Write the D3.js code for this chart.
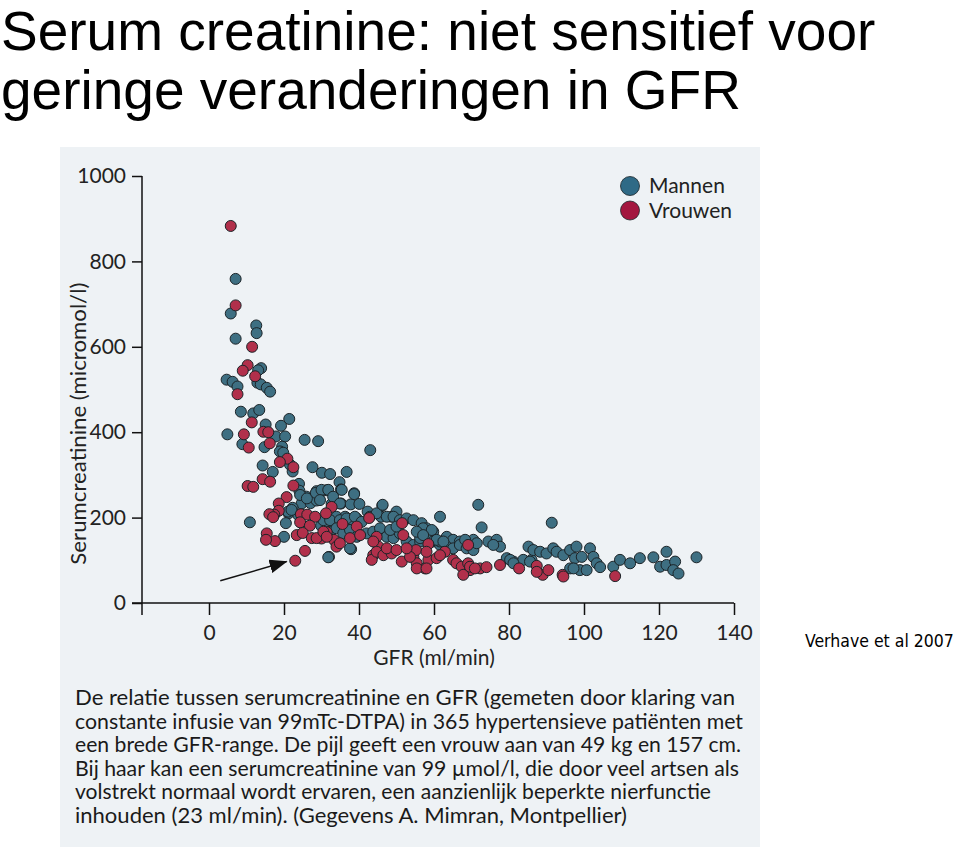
<!DOCTYPE html>
<html>
<head>
<meta charset="utf-8">
<script src="https://cdnjs.cloudflare.com/ajax/libs/d3/7.8.5/d3.min.js"></script>
<style>
  body { margin: 0; background: #fff; }
  svg { display: block; }
</style>
</head>
<body>
<script>
const width = 960;
const height = 847;

const titleLines = ["Serum creatinine: niet sensitief voor", "geringe veranderingen in GFR"];
const xTicks = [0, 20, 40, 60, 80, 100, 120, 140];
const yTicks = [0, 200, 400, 600, 800, 1000];
const xTitle = "GFR (ml/min)";
const yTitle = "Serumcreatinine (micromol/l)";
const seriesNames = ["Mannen", "Vrouwen"];
const captionLines = [
    "De relatie tussen serumcreatinine en GFR (gemeten door klaring van",
    "constante infusie van 99mTc-DTPA) in 365 hypertensieve patiënten met",
    "een brede GFR-range. De pijl geeft een vrouw aan van 49 kg en 157 cm.",
    "Bij haar kan een serumcreatinine van 99 µmol/l, die door veel artsen als",
    "volstrekt normaal wordt ervaren, een aanzienlijk beperkte nierfunctie",
    "inhouden (23 ml/min). (Gegevens A. Mimran, Montpellier)"
];
const source = "Verhave et al 2007";

// [GFR, serumcreatinine]
const mannen = [
    [7.1,759],[5.8,678],[7.1,619],[12.6,650],[12.7,632],[13.9,550],[13.1,545],[4.7,523],[6.3,518],[7.6,507],
    [12.9,516],[13.8,512],[15.4,504],[16.3,495],[8.5,448],[11.8,444],[13.4,452],[21.4,431],[15.1,418],[19.2,415],
    [4.9,395],[17.8,390],[20.3,390],[8.9,372],[14.8,365],[25.5,382],[29.1,379],[19.5,366],[18.9,355],[19.8,352],
    [21.6,324],[22.3,308],[14.3,322],[17,307],[27.6,318],[30.1,305],[32.3,302],[34.8,283],[36.7,307],[24,279],
    [43,358],[28.7,262],[31.3,264],[35.2,266],[26,249],[29.2,248],[24.7,233],[27.1,234],[28.7,240],[22.3,223],
    [21.2,210],[23.8,206],[32.7,232],[35.2,233],[37.8,231],[38.7,257],[29.9,181],[31.7,179],[34,202],[36.3,202],
    [37.6,194],[39.4,198],[42.3,214],[46.2,228],[45.9,202],[48.7,202],[50,214],[10.9,189],[20.5,187],[20,155],
    [32,108],[37.9,126],[24.1,263],[35.4,265],[38.7,255],[24.3,253],[26.1,245],[28.5,258],[30,265],[31.8,265],
    [33.1,249],[34.9,233],[40.1,232],[29.6,241],[21.1,214],[22,218],
    [30.5,194],[32.3,194],[34.9,194],[36.7,198],[38.9,202],[40.7,190],[42.9,202],[44.7,210],[46.3,230],[47.4,202],
    [49.2,202],[50.9,194],[52.7,198],[54.5,194],[56.7,187],[58,175],[59.8,167],[61.6,202],[63.4,155],[65.1,148],
    [66.9,144],[68.7,140],[70.5,148],[71.8,230],[32.3,167],[34,175],[35.8,163],[37.6,171],[39.4,155],[42,163],
    [43.8,167],[45.6,163],[47.4,155],[49.2,152],[50.9,163],[52.7,144],[54.5,136],[56.3,144],[58,152],[59.8,144],
    [61.6,136],[63.4,132],[65.1,128],[66.9,136],[68.7,128],[70.5,124],[37.6,128],[31.8,107],[91.4,188],[72.7,177],
    [57.1,175],[59.4,171],[56.3,152],[61.6,144],[68.3,148],[71.4,140],[74.5,144],[76.7,148],[77.6,132],[79.4,105],
    [81.2,97],[83.8,101],[86,101],[75.8,136],[80.3,101],[81.2,93],[85.6,97],[96.3,81],[98.9,77],[100.7,77],
    [85.2,132],[86.5,124],[88.3,120],[90,116],[91.8,128],[92.7,120],[94.5,112],[96.3,124],[98,132],[97.6,105],
    [99.4,108],[97.2,81],[101.6,128],[102.5,108],[103.4,93],[104.3,84],[107.8,85],[109.6,101],[112.3,93],[114.9,105],
    [118.5,107],[120.3,85],[122,120],[122,89],[124.3,97],[123.8,77],[125.2,69],[130,107],
    [45.6,175],[48.3,171],[50,179],[55.4,167],[57.1,159],[60.7,148],[62.5,144]
];

const vrouwen = [
    [5.8,883],[7.1,697],[11.5,600],[10.3,557],[9,544],[12.3,531],[7.6,489],[11.4,423],[9.3,395],[14.5,401],
    [15.8,400],[16.2,374],[10.6,364],[20.9,338],[18.9,330],[22.5,318],[14.3,290],[16.3,284],[10.3,274],[11.8,272],
    [22.5,275],[20.7,248],[18.6,233],[18.6,216],[17.4,207],[16.1,208],[17.1,201],[32.7,225],[24.5,208],[26.2,207],
    [28.3,202],[24.3,189],[26.9,181],[31.2,210],[35.6,185],[39.4,179],[42.7,199],[15.4,163],[17.6,145],[15.2,148],
    [23.4,159],[25,164],[27.4,152],[30,151],[31.4,166],[33.3,148],[34,132],[25.6,122],[23,99],
    [28.7,152],[30.5,167],[31.4,155],[34.9,140],[37.6,152],[40.3,159],[44.7,155],[45.2,132],[43.8,112],[43.4,101],
    [44.7,120],[46.5,112],[48.7,116],[51.4,97],[51.8,159],[51.5,187],[54.5,108],[55.4,93],[57.6,81],[58.5,101],
    [60.7,105],[62.9,120],[65.1,101],[66,93],[67.4,85],[69.1,93],[69.6,77],[69.1,136],[58.5,138],[55.2,124],
    [53.6,108],[55.4,81],[58,81],[67.8,66],[69.6,85],[72.3,81],[74,84],[77.6,89],[82.7,81],[87.4,87],
    [89,66],[90.5,77],[94.3,66],[94.5,62],[108.3,63],[87.4,73],[70.9,81],
    [43.8,144],[47.4,128],[50,124],[52.7,128],[58,120],[61.6,112]
];

// arrow pointing at the woman of 49 kg / 157 cm
const arrowFrom = [3, 52];
const arrowTo = [20.7, 97];

const colors = { Mannen: "#3e6f82", Vrouwen: "#b1304b" };
const legendColors = { Mannen: "#2f6a86", Vrouwen: "#a3173f" };

const svg = d3.select("body")
    .append("svg")
    .attr("width", width)
    .attr("height", height);

// title
svg.append("g")
    .selectAll("text")
    .data(titleLines)
    .enter()
    .append("text")
    .attr("x", 1)
    .attr("y", (d, i) => 50 + i * 59)
    .style("font-family", "'Liberation Sans', Arial, sans-serif")
    .style("font-size", "55px")
    .style("fill", "#000")
    .text(d => d);

// grey panel of the scanned figure
svg.append("rect")
    .attr("x", 60)
    .attr("y", 147)
    .attr("width", 700)
    .attr("height", 700)
    .style("fill", "#eef2f5");

const font = "Lato, 'Open Sans', sans-serif";

const x = d3.scaleLinear().domain([0, 140]).range([209, 734]);
const y = d3.scaleLinear().domain([0, 1000]).range([603, 176]);
const yAxisX = 142;

const chart = svg.append("g");

// y axis
const yAxis = chart.append("g")
    .attr("transform", `translate(${yAxisX},0)`)
    .call(d3.axisLeft(y).tickValues(yTicks).tickFormat(d3.format("d")).tickSize(10).tickPadding(6));
yAxis.select(".domain").remove();
yAxis.selectAll("line").style("stroke", "#111").style("stroke-width", 1.5);
yAxis.selectAll("text")
    .style("font-family", font)
    .style("font-size", "21px")
    .style("fill", "#222");

chart.append("line")
    .attr("x1", yAxisX).attr("x2", yAxisX)
    .attr("y1", y(1000)).attr("y2", y(0) + 12)
    .style("stroke", "#111")
    .style("stroke-width", 1.5);

// x axis
const xAxis = chart.append("g")
    .attr("transform", `translate(0,${y(0)})`)
    .call(d3.axisBottom(x).tickValues(xTicks).tickFormat(d3.format("d")).tickSize(12).tickPadding(10));
xAxis.select(".domain").remove();
xAxis.selectAll("line").style("stroke", "#111").style("stroke-width", 1.5);
xAxis.selectAll("text")
    .style("font-family", font)
    .style("font-size", "21px")
    .style("fill", "#222");

chart.append("line")
    .attr("x1", yAxisX - 10).attr("x2", x(140))
    .attr("y1", y(0)).attr("y2", y(0))
    .style("stroke", "#111")
    .style("stroke-width", 1.5);

// axis titles
chart.append("text")
    .attr("x", x(60))
    .attr("y", 665)
    .attr("text-anchor", "middle")
    .style("font-family", font)
    .style("font-size", "21px")
    .style("fill", "#222")
    .text(xTitle);

chart.append("text")
    .attr("transform", `translate(86,${y(420)}) rotate(-90)`)
    .attr("text-anchor", "middle")
    .attr("textLength", 282)
    .attr("lengthAdjust", "spacingAndGlyphs")
    .style("font-family", font)
    .style("font-size", "21px")
    .style("fill", "#222")
    .text(yTitle);

// points
const groups = [["Mannen", mannen], ["Vrouwen", vrouwen]];
groups.forEach(([name, pts]) => {
    chart.append("g")
        .selectAll("circle")
        .data(pts)
        .enter()
        .append("circle")
        .attr("cx", d => x(d[0]))
        .attr("cy", d => y(d[1]))
        .attr("r", 5.5)
        .style("fill", colors[name])
        .style("stroke", "#1c2428")
        .style("stroke-width", 1);
});

// arrow
svg.append("defs")
    .append("marker")
    .attr("id", "head")
    .attr("markerUnits", "userSpaceOnUse")
    .attr("markerWidth", 18)
    .attr("markerHeight", 14)
    .attr("refX", 17)
    .attr("refY", 7)
    .attr("orient", "auto")
    .append("path")
    .attr("d", "M0,0 L18,7 L0,14 Z")
    .style("fill", "#111");

chart.append("line")
    .attr("x1", x(arrowFrom[0])).attr("y1", y(arrowFrom[1]))
    .attr("x2", x(arrowTo[0])).attr("y2", y(arrowTo[1]))
    .style("stroke", "#111")
    .style("stroke-width", 1.5)
    .attr("marker-end", "url(#head)");

// legend
const legend = chart.append("g")
    .selectAll("g")
    .data(seriesNames)
    .enter()
    .append("g")
    .attr("transform", (d, i) => `translate(630,${186 + i * 24.5})`);

legend.append("circle")
    .attr("r", 9.5)
    .style("fill", d => legendColors[d])
    .style("stroke", "#1c2428")
    .style("stroke-width", 0.8);

legend.append("text")
    .attr("x", 19)
    .attr("y", 7)
    .style("font-family", font)
    .style("font-size", "21px")
    .style("fill", "#222")
    .text(d => d);

// caption
const captionLengths = [660, 668, 666, 664, 636, 552];
chart.append("g")
    .selectAll("text")
    .data(captionLines)
    .enter()
    .append("text")
    .attr("x", 75)
    .attr("y", (d, i) => 705 + i * 23.6)
    .attr("textLength", (d, i) => captionLengths[i])
    .attr("lengthAdjust", "spacingAndGlyphs")
    .style("font-family", font)
    .style("font-size", "21px")
    .style("fill", "#1a1a1a")
    .text(d => d);

// source
svg.append("text")
    .attr("x", 805)
    .attr("y", 647)
    .style("font-family", "'DejaVu Sans Condensed', 'DejaVu Sans', sans-serif")
    .style("font-size", "17.5px")
    .style("fill", "#000")
    .text(source);
</script>
</body>
</html>
